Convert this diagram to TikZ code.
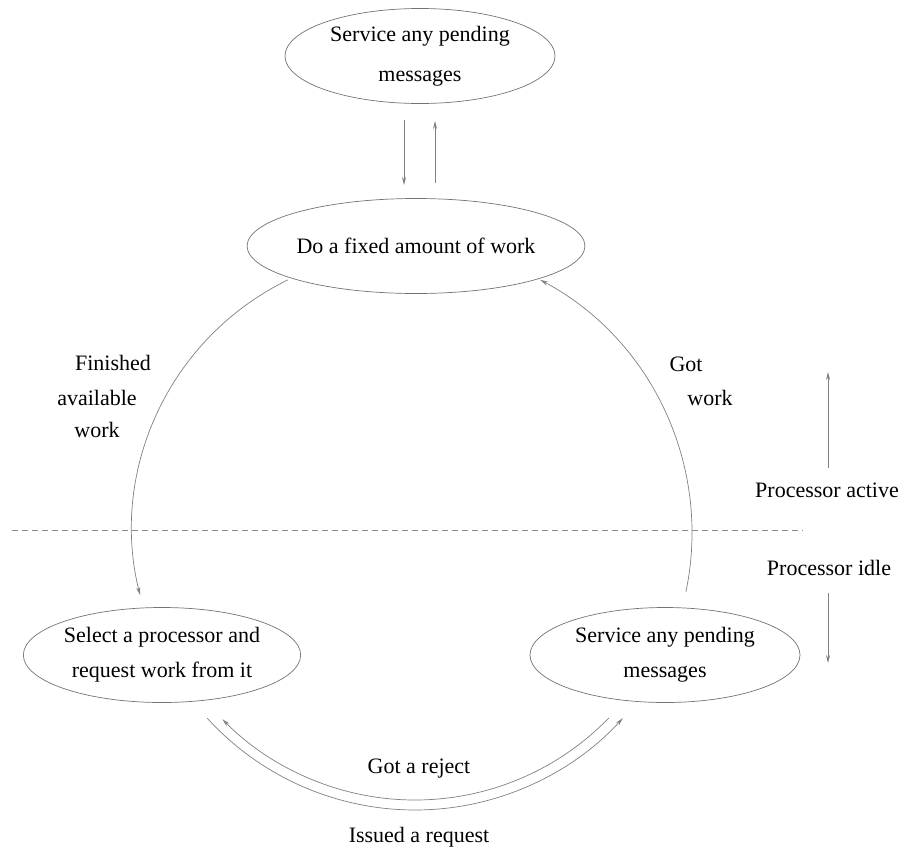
\documentclass[tikz,border=0pt]{standalone}
\usepackage{fontspec}
\setmainfont{Liberation Serif}
\usetikzlibrary{shapes.geometric,arrows.meta}
\begin{document}
\begin{tikzpicture}[x=1pt,y=-1pt,
  state/.style={ellipse,draw=black!55,line width=0.7pt,minimum width=270pt,minimum height=95pt,inner sep=0pt,align=center,text=black,font=\fontsize{22}{35}\selectfont},
  lbl/.style={inner sep=0pt,anchor=base,text=black,font=\fontsize{22}{26}\selectfont},
  conn/.style={draw=black!50,line width=0.7pt,-{Stealth[length=8pt,width=4pt]}},
  sep/.style={draw=black!45,line width=0.8pt,dash pattern=on 6pt off 4pt},
]
\useasboundingbox (0,0) rectangle (904,849);
% states
\node[state] (top) at (420,56) {Service any pending\\[5pt]messages};
\node[state] (mid) at (416,246) {Do a fixed amount of work};
\node[state] (sel) at (162,655) {Select a processor and\\request work from it};
\node[state] (srv) at (665,655) {Service any pending\\messages};
% top pair of arrows
\coordinate (d1) at (404,120); \coordinate (d2) at (404,185);
\coordinate (u1) at (435,183); \coordinate (u2) at (435,121);
\draw[conn] (d1) -- (d2);
\draw[conn] (u1) -- (u2);
% big arcs
\coordinate (Lc) at (409,529);
\coordinate (Rc) at (405,533);
\draw[conn] (Lc) ++(-115.9:277) arc[start angle=-115.9,end angle=-193.8,radius=277];
\draw[conn] (Rc) ++(11.9:287) arc[start angle=11.9,end angle=-61.9,radius=287];
% bottom arcs
\coordinate (Oc) at (415,529);
\coordinate (Ic) at (415,530);
\draw[conn] (Oc) ++(137.7:281) arc[start angle=137.7,end angle=42.3,radius=281];
\draw[conn] (Ic) ++(44.1:270) arc[start angle=44.1,end angle=135.5,radius=270];
% separator
\coordinate (s1) at (12,530); \coordinate (s2) at (803,530);
\draw[sep] (s1) -- (s2);
% side arrows
\coordinate (a1) at (828,468); \coordinate (a2) at (828,372);
\coordinate (b1) at (828,593); \coordinate (b2) at (828,663);
\draw[conn] (a1) -- (a2);
\draw[conn] (b1) -- (b2);
% labels
\node[lbl] (f1) at (113,370) {Finished};
\node[lbl] (f2) at (97,405) {available};
\node[lbl] (f3) at (97,437) {work};
\node[lbl] (g1) at (686,371) {Got};
\node[lbl] (g2) at (710,405) {work};
\node[lbl] (pa) at (827,497) {Processor active};
\node[lbl] (pi) at (829,575) {Processor idle};
\node[lbl] (rj) at (419,773) {Got a reject};
\node[lbl] (rq) at (419,842) {Issued a request};
\end{tikzpicture}
\end{document}
